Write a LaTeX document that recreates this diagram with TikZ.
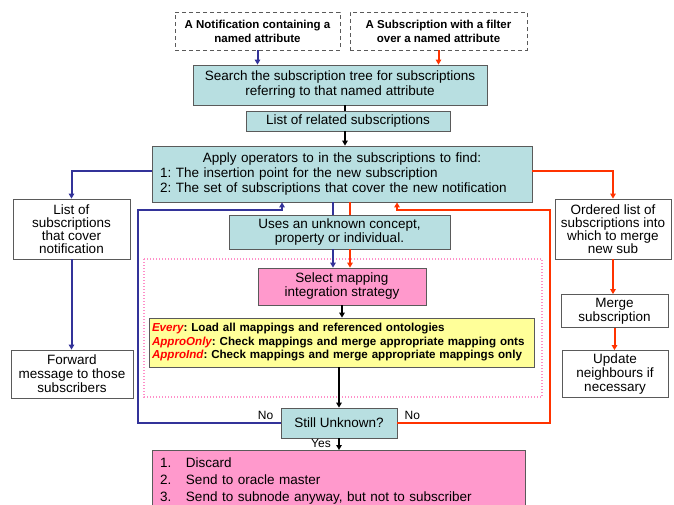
\documentclass[tikz,border=0pt]{standalone}
\usepackage{fontspec}
\setmainfont{Liberation Sans}
\usetikzlibrary{arrows.meta}
\frenchspacing

\definecolor{boxline}{HTML}{5A5A5A}
\definecolor{boxteal}{HTML}{B8DFE1}
\definecolor{boxpink}{HTML}{FF99CC}
\definecolor{boxyellow}{HTML}{FFFF99}
\definecolor{lineblue}{HTML}{333399}
\definecolor{linered}{HTML}{FF3300}
\definecolor{dotpink}{HTML}{FF8FC8}
\definecolor{labelred}{HTML}{FF0000}

\begin{document}
\begin{tikzpicture}[x=1pt, y=-1pt,
    every node/.style={inner sep=0pt, font=\fontsize{13.5}{15}\selectfont},
    dashbox/.style={draw=boxline, line width=0.8pt, dash pattern=on 4pt off 3pt,
      align=center, font=\bfseries\fontsize{11.5}{14}\selectfont},
    tealbox/.style={draw=boxline, fill=boxteal, line width=0.8pt, align=center},
    plainbox/.style={draw=boxline, fill=white, line width=0.8pt, align=center},
    headed/.style={-{Triangle[length=5pt, width=5.5pt]}},
    blueline/.style={draw=lineblue, line width=2pt},
    redline/.style={draw=linered, line width=2pt},
    blackline/.style={draw=black, line width=1.6pt},
    nolabel/.style={font=\fontsize{12}{14}\selectfont}]
    \useasboundingbox (0,0) rectangle (674,504);

    % Define the positions of the boxes
    \coordinate (NotifPos) at (257.5,31);
    \coordinate (SubscPos) at (438.5,31);
    \coordinate (SearchPos) at (340,85);
    \coordinate (RelatedPos) at (348,121);
    \coordinate (ApplyPos) at (342,174);
    \coordinate (CoverPos) at (71.5,229);
    \coordinate (OrderedPos) at (613,229);
    \coordinate (UsesPos) at (339.5,232);
    \coordinate (SelectPos) at (342,286.5);
    \coordinate (StrategyPos) at (341.5,342.5);
    \coordinate (ForwardPos) at (72,374);
    \coordinate (MergePos) at (614.5,311);
    \coordinate (UpdatePos) at (615,374);
    \coordinate (StillPos) at (339,423);
    \coordinate (DiscardPos) at (338.5,450);

    % Define where the lines run
    \coordinate (MainDrop) at (345,0);
    \coordinate (BlueDrop) at (333,0);
    \coordinate (RedDrop) at (350,0);
    \coordinate (BlueLoop) at (138,210);
    \coordinate (RedLoop) at (550,210);
    \coordinate (BlueReturn) at (282,0);
    \coordinate (RedReturn) at (397,0);

    % Draw the dotted frame
    \coordinate (FrameNW) at (144,259);
    \coordinate (FrameSE) at (542,397);
    \draw[dotpink, line width=1.4pt, dash pattern=on 1.4pt off 1.6pt] (FrameNW) rectangle (FrameSE);

    % Draw the boxes
    \node[dashbox, minimum width=165pt, minimum height=38pt] (NotifBox) at (NotifPos)
      {A Notification containing a\\named attribute};
    \node[dashbox, minimum width=177pt, minimum height=38pt] (SubscBox) at (SubscPos)
      {A Subscription with a filter\\over a named attribute};
    \node[tealbox, minimum width=294pt, minimum height=40pt] (SearchBox) at (SearchPos)
      {Search the subscription tree for subscriptions\\referring to that named attribute};
    \node[tealbox, minimum width=204pt, minimum height=20pt] (RelatedBox) at (RelatedPos)
      {List of related subscriptions};
    \node[tealbox, minimum width=380pt, minimum height=56pt, text width=364pt, align=left] (ApplyBox) at (ApplyPos)
      {\makebox[364pt]{Apply operators to in the subscriptions to find:}\\
       1: The insertion point for the new subscription\\
       2: The set of subscriptions that cover the new notification};
    \node[plainbox, minimum width=117pt, minimum height=60pt, font=\fontsize{13.5}{13}\selectfont] (CoverBox) at (CoverPos)
      {List of\\subscriptions\\that cover\\notification};
    \node[plainbox, minimum width=116pt, minimum height=60pt, font=\fontsize{13.5}{13}\selectfont] (OrderedBox) at (OrderedPos)
      {Ordered list of\\subscriptions into\\which to merge\\new sub};
    \node[tealbox, minimum width=221pt, minimum height=34pt, font=\fontsize{13.5}{14}\selectfont] (UsesBox) at (UsesPos)
      {Uses an unknown concept,\\property or individual.};
    \node[tealbox, fill=boxpink, minimum width=168pt, minimum height=37pt, font=\fontsize{13.5}{14}\selectfont] (SelectBox) at (SelectPos)
      {Select mapping\\integration strategy};
    \node[tealbox, fill=boxyellow, minimum width=385pt, minimum height=49pt, text width=379pt, align=left,
      font=\bfseries\fontsize{11.6}{13.5}\selectfont] (StrategyBox) at (StrategyPos)
      {{\itshape\color{labelred}Every}: Load all mappings and referenced ontologies\\
       {\itshape\color{labelred}ApproOnly}: Check mappings and merge appropriate mapping onts\\
       {\itshape\color{labelred}ApproInd}: Check mappings and merge appropriate mappings only};
    \node[plainbox, minimum width=122pt, minimum height=48pt, font=\fontsize{13.5}{14}\selectfont] (ForwardBox) at (ForwardPos)
      {Forward\\message to those\\subscribers};
    \node[plainbox, minimum width=107pt, minimum height=33pt, font=\fontsize{13.5}{14}\selectfont] (MergeBox) at (MergePos)
      {Merge\\subscription};
    \node[plainbox, minimum width=106pt, minimum height=47pt, font=\fontsize{13.5}{14}\selectfont] (UpdateBox) at (UpdatePos)
      {Update\\neighbours if\\necessary};
    \node[tealbox, minimum width=116pt, minimum height=30pt] (StillBox) at (StillPos)
      {Still Unknown?};
    \node[tealbox, fill=boxpink, anchor=north, minimum width=373pt, text width=357pt, align=left,
      inner ysep=7pt, font=\fontsize{13.5}{17}\selectfont] (DiscardBox) at (DiscardPos)
      {\makebox[26pt][l]{1.}Discard\\
       \makebox[26pt][l]{2.}Send to oracle master\\
       \makebox[26pt][l]{3.}Send to subnode anyway, but not to subscriber};

    % Draw the lines into the search
    \draw[blueline, headed] (NotifBox.south) -- (NotifBox.south |- SearchBox.north);
    \draw[redline, headed] (SubscBox.south) -- (SubscBox.south |- SearchBox.north);
    \draw[blackline] (SearchBox.south -| MainDrop) -- (RelatedBox.north -| MainDrop);
    \draw[blackline, headed] (RelatedBox.south -| MainDrop) -- (ApplyBox.north -| MainDrop);

    % Draw the two sides
    \draw[blueline, headed] ([yshift=3pt]ApplyBox.west) -| (CoverBox.north);
    \draw[blueline, headed] (CoverBox.south) -- (CoverBox.south |- ForwardBox.north);
    \draw[redline, headed] ([yshift=3pt]ApplyBox.east) -| (OrderedBox.north);
    \draw[redline, headed] (OrderedBox.south) -- (OrderedBox.south |- MergeBox.north);
    \draw[redline, headed] (MergeBox.south) -- (MergeBox.south |- UpdateBox.north);

    % Draw the unknown branch
    \draw[blueline] (ApplyBox.south -| BlueDrop) -- (UsesBox.north -| BlueDrop);
    \draw[redline] (ApplyBox.south -| RedDrop) -- (UsesBox.north -| RedDrop);
    \draw[blueline, headed] (UsesBox.south -| BlueDrop) -- (SelectBox.north -| BlueDrop);
    \draw[redline, headed] (UsesBox.south -| RedDrop) -- (SelectBox.north -| RedDrop);
    \draw[blackline, headed] (SelectBox.south) -- (SelectBox.south |- StrategyBox.north);
    \draw[blackline, headed] (StrategyBox.south -| StillBox.north) -- (StillBox.north);
    \draw[blackline, headed] (StillBox.south) -- (StillBox.south |- DiscardBox.north);

    % Draw the loops back
    \draw[blueline, headed] (StillBox.west) -| (BlueLoop) -| (ApplyBox.south -| BlueReturn);
    \draw[redline, headed] (StillBox.east) -| (RedLoop) -| (ApplyBox.south -| RedReturn);

    % Draw the labels
    \node[nolabel, anchor=base] (NoLeft) at ([xshift=-15pt, yshift=4pt]StillBox.west) {No};
    \node[nolabel, anchor=base] (NoRight) at ([xshift=15pt, yshift=4pt]StillBox.east) {No};
    \node[nolabel, anchor=north east] (YesLabel) at ([xshift=-8pt, yshift=-1pt]StillBox.south) {Yes};
\end{tikzpicture}
\end{document}
